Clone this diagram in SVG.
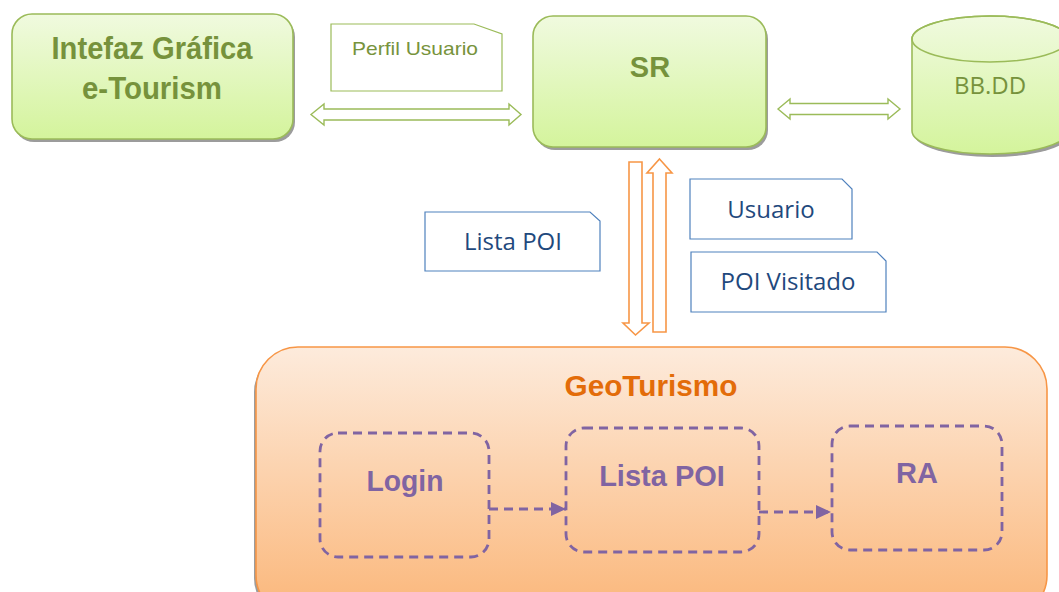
<svg xmlns="http://www.w3.org/2000/svg" width="1059" height="592" viewBox="0 0 1059 592">
  <defs>
    <linearGradient id="greenFill" x1="0" y1="0" x2="0" y2="1">
      <stop offset="0" stop-color="#F0FADF"/>
      <stop offset="1" stop-color="#D4F49C"/>
    </linearGradient>
    <linearGradient id="orangeFill" gradientUnits="userSpaceOnUse" x1="0" y1="347" x2="0" y2="592">
      <stop offset="0" stop-color="#FDEBDC"/>
      <stop offset="1" stop-color="#FBBB82"/>
    </linearGradient>
    <marker id="purpleHead" markerUnits="userSpaceOnUse" markerWidth="16" markerHeight="16" viewBox="0 0 16 16" refX="15" refY="8" orient="auto">
      <path d="M0,1 L15,8 L0,15 Z" fill="#8064A2"/>
    </marker>
  </defs>
  <style>
    .box { fill: url(#greenFill); stroke: #9BBB59; stroke-width: 1.6; }
    .shadow { fill: #9C9C9C; }
    .gtitle { font-family: "Liberation Sans", Arial, sans-serif; font-weight: bold; fill: #76923C; text-anchor: middle; }
    .note-green { fill: #FFFFFF; stroke: #9BBB59; stroke-width: 1.2; }
    .note-blue { fill: #FFFFFF; stroke: #4F81BD; stroke-width: 1.2; }
    .ntext { font-family: "Open Sans", "Liberation Sans", sans-serif; font-size: 24px; fill: #1F497D; text-anchor: middle; }
    .hollow-green { fill: #FFFFFF; stroke: #9BBB59; stroke-width: 1.4; }
    .hollow-orange { fill: #FFFFFF; stroke: #F79646; stroke-width: 1.6; }
    .dash { fill: none; stroke: #8064A2; stroke-width: 2.8; stroke-dasharray: 9 6; }
    .ptext { font-family: "Liberation Sans", Arial, sans-serif; font-weight: bold; font-size: 29px; fill: #8064A2; text-anchor: middle; }
    .flow { fill: none; stroke: #8064A2; stroke-width: 2.8; stroke-dasharray: 9 6; }
  </style>

  <!-- Graphical interface node -->
  <g id="intefaz">
    <rect class="shadow" x="14" y="17" width="281" height="125" rx="20"/>
    <rect class="box" x="12" y="14" width="281" height="125" rx="20"/>
    <text class="gtitle" x="152" y="59" font-size="31" textLength="201" lengthAdjust="spacingAndGlyphs">Intefaz Gráfica</text>
    <text class="gtitle" x="152" y="99" font-size="31" textLength="140" lengthAdjust="spacingAndGlyphs">e-Tourism</text>
  </g>

  <!-- Recommender system node -->
  <g id="sr">
    <rect class="shadow" x="535" y="19" width="233" height="131" rx="20"/>
    <rect class="box" x="533" y="16" width="233" height="131" rx="20"/>
    <text class="gtitle" x="650" y="77" font-size="29">SR</text>
  </g>

  <!-- Database cylinder -->
  <g id="bbdd">
    <path class="shadow" d="M914,42 A78,23 0 0 1 1070,42 V134 A78,23 0 0 1 914,134 Z"/>
    <path class="box" d="M912,39 A78,23 0 0 1 1068,39 V131 A78,23 0 0 1 912,131 Z"/>
    <ellipse cx="990" cy="39" rx="78" ry="23" fill="none" stroke="#9BBB59" stroke-width="1.6"/>
    <text x="990" y="94" font-family="Open Sans, Liberation Sans, sans-serif" font-size="24" fill="#76923C" text-anchor="middle">BB.DD</text>
  </g>

  <!-- Data notes -->
  <g id="perfil-usuario">
    <path class="note-green" d="M331,24 H474 L502,34 V91 H331 Z"/>
    <text x="415" y="55" font-family="Liberation Sans, Arial, sans-serif" font-size="19" fill="#77933C" text-anchor="middle" textLength="126" lengthAdjust="spacingAndGlyphs">Perfil Usuario</text>
  </g>
  <g id="lista-poi-note">
    <path class="note-blue" d="M425,212 H590 L600,221 V271 H425 Z"/>
    <text class="ntext" x="513" y="250">Lista POI</text>
  </g>
  <g id="usuario-note">
    <path class="note-blue" d="M690,179 H842 L852,189 V239 H690 Z"/>
    <text class="ntext" x="771" y="218">Usuario</text>
  </g>
  <g id="poi-visitado-note">
    <path class="note-blue" d="M691,252 H877 L886,261 V312 H691 Z"/>
    <text class="ntext" x="788" y="290">POI Visitado</text>
  </g>

  <!-- GeoTurismo application container -->
  <g id="geoturismo">
    <rect class="shadow" x="254" y="350" width="791" height="270" rx="42"/>
    <rect x="256" y="347" width="791" height="270" rx="42" fill="url(#orangeFill)" stroke="#F79646" stroke-width="1.6"/>
    <text x="651" y="396" font-family="Liberation Sans, Arial, sans-serif" font-weight="bold" font-size="29" fill="#E36C09" text-anchor="middle" textLength="173" lengthAdjust="spacingAndGlyphs">GeoTurismo</text>
  </g>

  <g id="login">
    <rect class="dash" x="320" y="433" width="169" height="124" rx="18"/>
    <text class="ptext" x="405" y="491" textLength="77" lengthAdjust="spacingAndGlyphs">Login</text>
  </g>
  <g id="lista-poi">
    <rect class="dash" x="566" y="428" width="193" height="124" rx="18"/>
    <text class="ptext" x="662" y="486">Lista POI</text>
  </g>
  <g id="ra">
    <rect class="dash" x="832" y="426" width="170" height="124" rx="18"/>
    <text class="ptext" x="917" y="483" font-size="28">RA</text>
  </g>

  <!-- Connectors -->
  <g id="connectors">
    <!-- interface <-> SR -->
    <path class="hollow-green" d="M311,114.5 L324,104 V109 H509 V104 L521,114.5 L509,125 V120 H324 V125 Z"/>
    <!-- SR <-> database -->
    <path class="hollow-green" d="M778,109 L790,99 V103.5 H888 V99 L900,109 L888,119 V114.5 H790 V119 Z"/>
    <!-- SR -> GeoTurismo -->
    <path class="hollow-orange" d="M629,162 H642 V323 H649 L635.5,335 L623,323 H629 Z"/>
    <!-- GeoTurismo -> SR -->
    <path class="hollow-orange" d="M659.5,159 L672,173 H666 V332 H653 V173 H647 Z"/>
    <!-- internal flow -->
    <path class="flow" d="M489,509 H566" marker-end="url(#purpleHead)"/>
    <path class="flow" d="M759,512 H831" marker-end="url(#purpleHead)"/>
  </g>
</svg>
